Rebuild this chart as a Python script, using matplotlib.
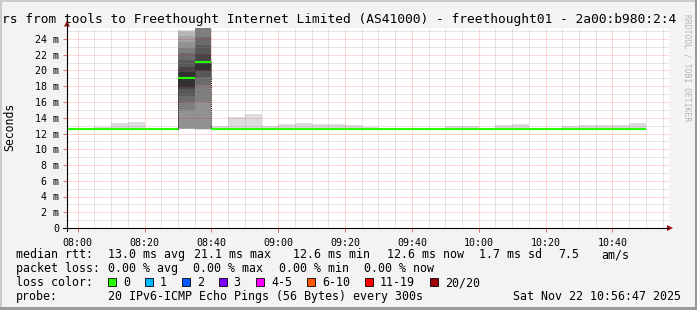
import matplotlib
matplotlib.use("Agg")
import matplotlib.pyplot as plt
from matplotlib.patches import Rectangle, Polygon
from matplotlib.lines import Line2D

# ---------------- data ----------------
interval_start = ["07:55", "08:00", "08:05", "08:10", "08:15", "08:20", "08:25",
                  "08:30", "08:35", "08:40", "08:45", "08:50", "08:55",
                  "09:00", "09:05", "09:10", "09:15", "09:20", "09:25",
                  "09:30", "09:35", "09:40", "09:45", "09:50", "09:55",
                  "10:00", "10:05", "10:10", "10:15", "10:20", "10:25",
                  "10:30", "10:35", "10:40", "10:45"]
median_ms = [12.6, 12.6, 12.6, 12.6, 12.6, 12.6, 12.6,
             19.0, 21.1, 12.6, 12.6, 12.6, 12.6,
             12.6, 12.6, 12.6, 12.6, 12.6, 12.6,
             12.6, 12.6, 12.6, 12.6, 12.6, 12.6,
             12.6, 12.6, 12.6, 12.6, 12.6, 12.6,
             12.6, 12.6, 12.6, 12.6]
smoke_lo_ms = [12.55, 12.55, 12.55, 12.55, 12.55, 12.5, 12.55,
               12.55, 12.4, 12.55, 12.55, 12.55, 12.55,
               12.55, 12.55, 12.55, 12.4, 12.55, 12.55,
               12.55, 12.55, 12.55, 12.55, 12.55, 12.55,
               12.55, 12.55, 12.55, 12.55, 12.55, 12.4,
               12.4, 12.4, 12.4, 12.55]
smoke_hi_ms = [12.75, 12.75, 12.8, 13.37, 13.46, 12.75, 12.75,
               25.14, 28.5, 12.9, 14.1, 14.5, 12.9,
               13.15, 13.3, 13.2, 13.2, 13.08, 12.8,
               12.75, 12.75, 12.75, 12.75, 12.95, 12.95,
               12.75, 13.04, 13.25, 12.75, 12.75, 12.95,
               13.05, 13.05, 13.07, 13.37]
# sorted ping values (20 pings) of the two slow intervals
spike_pings = {
    "08:30": [12.55, 12.6, 12.6, 12.62, 12.65, 15.0, 16.0, 16.7, 17.7, 17.9,
              19.8, 20.5, 21.3, 22.2, 22.9, 23.6, 24.4, 24.85, 25.0, 25.14],
    "08:35": [12.4, 12.6, 12.6, 12.6, 12.62, 16.0, 18.1, 19.2, 19.9, 20.0,
              21.2, 22.1, 23.2, 24.25, 25.6, 26.0, 26.5, 27.0, 27.5, 28.5],
}
x_tick_labels = ["08:00", "08:20", "08:40", "09:00", "09:20", "09:40", "10:00", "10:20", "10:40"]
y_tick_values = [0, 2, 4, 6, 8, 10, 12, 14, 16, 18, 20, 22, 24]
loss_labels = ["0", "1", "2", "3", "4-5", "6-10", "11-19", "20/20"]
loss_colors = ["#26ff00", "#00b8ff", "#0059ff", "#7e00ff", "#ff00ff", "#ff5500", "#ff0000", "#a10000"]
title = "rs from tools to Freethought Internet Limited (AS41000) - freethought01 - 2a00:b980:2:4"
stats_rtt = ["13.0 ms avg", "21.1 ms max", "12.6 ms min", "12.6 ms now", "1.7 ms sd", "7.5", "am/s"]
stats_loss = ["0.00 % avg", "0.00 % max", "0.00 % min", "0.00 % now"]
probe_text = "20 IPv6-ICMP Echo Pings (56 Bytes) every 300s"
date_text = "Sat Nov 22 10:56:47 2025"
view_start, view_end = "07:56:47", "10:56:47"
step_min = 5

# ---------------- helpers ----------------
W, H, DPI = 697, 310, 100
FONT = "DejaVu Sans Mono"
plt.rcParams["font.family"] = [FONT]


def tmin(s):
    parts = [int(p) for p in s.split(":")]
    v = parts[0] * 60 + parts[1] - 480
    if len(parts) > 2:
        v += parts[2] / 60.0
    return v


def fx(x):
    return x / W


def fy(y):
    return 1 - y / H


fig = plt.figure(figsize=(W / DPI, H / DPI), dpi=DPI)
fig.patch.set_facecolor("#f3f3f3")

ax_left, ax_right, ax_bottom, ax_top = 67, 668.5, 228, 27.5
ax = fig.add_axes([fx(ax_left), fy(ax_bottom), (ax_right - ax_left) / W, (ax_bottom - ax_top) / H])
ax.set_facecolor("white")
x0, x1 = tmin(view_start), tmin(view_end)
ax.set_xlim(x0, x1)
ax.set_ylim(0, (ax_bottom - ax_top) / 7.875)
for s in ax.spines.values():
    s.set_visible(False)

starts = [tmin(t) for t in interval_start]

# smoke: shades from outer (light) to inner (dark) ping pairs
band_colors = ["#%02x%02x%02x" % ((int(190 / 10 * (10 - k)) + 50,) * 3) for k in range(1, 11)]
for t, st, lo, hi in zip(interval_start, starts, smoke_lo_ms, smoke_hi_ms):
    if t in spike_pings:
        p = spike_pings[t]
        for k in range(1, 11):
            ax.bar(st, p[20 - k] - p[k - 1], bottom=p[k - 1], width=step_min, align="edge",
                   color=band_colors[k - 1], linewidth=0, zorder=1 + k * 0.01)
    else:
        ax.bar(st, hi - lo, bottom=lo, width=step_min, align="edge",
               color=band_colors[0], linewidth=0, zorder=1)

# grid: minor grey dots, major translucent red dots
GRID_MAJ = (1.0, 0.0, 0.0, 0.33)
GRID_MIN = (0.55, 0.55, 0.55, 0.45)
ymax = ax.get_ylim()[1]
for v in range(1, int(ymax) + 1):
    if v % 2 == 0:
        ax.axhline(v, color=GRID_MAJ, lw=0.72, ls=(0, (1, 1)), zorder=3)
    else:
        ax.axhline(v, color=GRID_MIN, lw=0.72, ls=(0, (1, 1)), zorder=2.9)
m = -5
while m < x1:
    if m > x0:
        if m % 20 == 0:
            ax.axvline(m, color=GRID_MAJ, lw=0.72, ls=(0, (1, 1)), zorder=3)
        else:
            ax.axvline(m, color=GRID_MIN, lw=0.72, ls=(0, (1, 1)), zorder=2.9)
    m += 5

# median: dark step connectors, green (0 loss) segments
edges = starts + [starts[-1] + step_min]
ax.stairs(median_ms, edges, baseline=None, color="#202020", lw=0.75, ls=(0, (1, 1)), zorder=4)
ax.hlines(median_ms, starts, [s + step_min for s in starts], color=loss_colors[0], lw=1.5, zorder=5)

# ticks
ax.set_xticks([tmin(t) for t in x_tick_labels])
ax.set_xticklabels(x_tick_labels)
ax.set_yticks(y_tick_values)
ax.set_yticklabels(["0" if v == 0 else "%d m" % v for v in y_tick_values])
ax.tick_params(axis="both", direction="out", length=3, width=0.72, color="#e07070",
               labelsize=7.2, labelcolor="#000000")
ax.tick_params(axis="x", pad=4)
ax.tick_params(axis="y", pad=2.5)

# axis lines with arrows
fig.add_artist(Line2D([fx(63), fx(668)], [fy(228), fy(228)], color="#000000", lw=0.8))
fig.add_artist(Line2D([fx(67), fx(67)], [fy(231), fy(24)], color="#000000", lw=0.8))
fig.add_artist(Polygon([[fx(667), fy(225)], [fx(673), fy(228)], [fx(667), fy(231)]],
                       closed=True, color="#a01010", lw=0))
fig.add_artist(Polygon([[fx(64), fy(26.5)], [fx(67), fy(20.5)], [fx(70), fy(26.5)]],
                       closed=True, color="#a01010", lw=0))

# frame shading
fig.add_artist(Rectangle((0, fy(2)), 1, 2 / H, color="#cbcbcb", lw=0))
fig.add_artist(Rectangle((0, 0), 2 / W, 1, color="#cbcbcb", lw=0))
fig.add_artist(Rectangle((0, 0), 1, 3 / H, color="#999999", lw=0))
fig.add_artist(Rectangle((1 - 2 / W, 0), 2 / W, 1, color="#999999", lw=0))

# texts
fig.text(fx(2.5), fy(23), title, fontsize=9.27, ha="left", va="baseline", color="#000000")
fig.text(fx(10), fy(127), "Seconds", fontsize=8.3, rotation=90, ha="center", va="center")
fig.text(fx(687), fy(14), "RRDTOOL / TOBI OETIKER", fontsize=5.8, rotation=270,
         ha="center", va="top", color="#b4b4b4")

LS = 8.35
rows = [258, 272, 286, 300]
fig.text(fx(16), fy(rows[0]), "median rtt:", fontsize=LS, va="baseline")
for txt, x in zip(stats_rtt, [107.5, 194, 293, 387.5, 479, 558, 601]):
    fig.text(fx(x), fy(rows[0]), txt, fontsize=LS, va="baseline")
fig.text(fx(16), fy(rows[1]), "packet loss:", fontsize=LS, va="baseline")
for txt, x in zip(stats_loss, [107.5, 193, 279, 364]):
    fig.text(fx(x), fy(rows[1]), txt, fontsize=LS, va="baseline")
fig.text(fx(16), fy(rows[2]), "loss color:", fontsize=LS, va="baseline")
for lab, col, x in zip(loss_labels, loss_colors, [123, 160, 197, 233.5, 271, 322, 380, 445]):
    bx = x - 15
    fig.add_artist(Rectangle((fx(bx), fy(rows[2] - 0.5)), 8 / W, 8 / H,
                             facecolor=col, edgecolor="#000000", lw=0.6))
    fig.text(fx(x), fy(rows[2]), lab, fontsize=LS, va="baseline")
fig.text(fx(16), fy(rows[3]), "probe:", fontsize=LS, va="baseline")
fig.text(fx(107.5), fy(rows[3]), probe_text, fontsize=LS, va="baseline")
fig.text(fx(681), fy(rows[3]), date_text, fontsize=LS, va="baseline", ha="right")

fig.savefig("out.png", dpi=DPI, facecolor=fig.get_facecolor())
